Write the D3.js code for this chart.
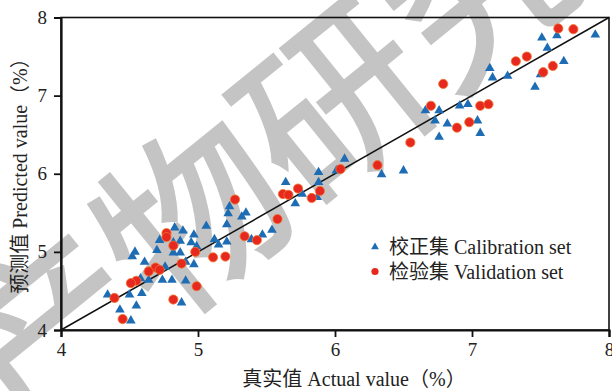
<!DOCTYPE html>
<html>
<head>
<meta charset="utf-8">
<script src="https://cdn.jsdelivr.net/npm/d3@7"></script>
<style>
  html, body { margin: 0; padding: 0; background: #fff; }
  svg { display: block; }
  text { font-family: "Liberation Serif", "Times New Roman", "Noto Sans CJK SC", serif; fill: #222; }
</style>
</head>
<body>
<svg id="chart" width="612" height="391"></svg>
<script>
// calibration set (校正集)
const calActual = [7.90, 7.62, 7.51, 7.55, 7.67, 7.13, 7.15, 7.26, 7.50, 7.46,
  6.91, 6.97, 6.82, 7.04, 7.06, 6.66, 6.76, 6.73, 6.76, 6.07,
  6.50, 6.34, 6.01, 5.88, 5.88, 5.64, 5.76, 5.87, 5.71, 5.23,
  5.22, 5.35, 5.32, 5.06, 5.21, 5.39, 5.47, 5.54, 4.83, 4.89,
  4.97, 4.72, 4.82, 4.87, 4.95, 4.99, 5.12, 5.15, 5.21, 4.70,
  4.82, 4.87, 4.54, 4.52, 4.61, 4.76, 4.91, 4.97, 4.58, 4.64,
  4.74, 4.81, 4.91, 4.34, 4.50, 4.59, 4.43, 4.55, 4.51, 4.88]
const calPredicted = [7.78, 7.77, 7.74, 7.61, 7.44, 7.35, 7.23, 7.25, 7.27, 7.11,
  6.87, 6.89, 6.64, 6.68, 6.52, 6.81, 6.81, 6.68, 6.47, 6.19,
  6.04, 5.99, 6.04, 6.02, 5.89, 5.89, 5.74, 5.70, 5.62, 5.58,
  5.49, 5.50, 5.45, 5.33, 5.35, 5.16, 5.22, 5.28, 5.31, 5.27,
  5.22, 5.15, 5.12, 5.14, 5.12, 5.07, 5.16, 5.09, 5.13, 5.02,
  4.99, 4.99, 5.00, 4.94, 4.87, 4.81, 4.87, 4.84, 4.66, 4.64,
  4.64, 4.64, 4.63, 4.45, 4.45, 4.47, 4.26, 4.31, 4.12, 4.35]
// validation set (检验集)
const valActual = [7.63, 7.74, 7.32, 7.40, 7.52, 7.59, 6.79, 7.06, 7.12, 6.98,
  6.70, 6.89, 6.55, 6.31, 6.04, 5.89, 5.83, 5.73, 5.62, 5.66,
  5.58, 5.27, 5.34, 5.43, 4.77, 4.77, 4.82, 4.98, 5.11, 5.20,
  4.88, 4.69, 4.72, 4.64, 4.55, 4.51, 4.39, 4.99, 4.82, 4.45]
const valPredicted = [7.86, 7.85, 7.44, 7.50, 7.30, 7.38, 7.15, 6.87, 6.89, 6.66,
  6.87, 6.59, 6.40, 6.11, 6.06, 5.78, 5.69, 5.81, 5.74, 5.73,
  5.42, 5.67, 5.20, 5.15, 5.24, 5.19, 5.08, 5.00, 4.93, 4.94,
  4.85, 4.80, 4.77, 4.75, 4.63, 4.60, 4.41, 4.56, 4.39, 4.14]
const xTicks = [4, 5, 6, 7, 8]
const yTicks = [4, 5, 6, 7, 8]
const legendLabels = ["校正集 Calibration set", "检验集 Validation set"]
const watermark = "产物研究"

const blue = "#1d6cb4", red = "#e6281f"
const svg = d3.select("#chart")
const margin = { top: 17.5, right: 3, bottom: 61, left: 61 }
const W = 612, H = 391
const x = d3.scaleLinear().domain([4, 8]).range([margin.left, W - margin.right])
const y = d3.scaleLinear().domain([4, 8]).range([H - margin.bottom, margin.top])

//----------------------------------------------------------- watermark (under the data)
svg.append("text").text(watermark)
  .attr("transform", "translate(256,150) rotate(-39)")
  .attr("text-anchor", "middle").attr("dominant-baseline", "central")
  .style("font-family", "Noto Sans CJK SC").style("font-weight", 400)
  .style("font-size", "182px")
  .style("fill", "#c4c4c4").style("stroke", "#c4c4c4").style("stroke-width", 3)

//----------------------------------------------------------- frame + axes
svg.append("rect").attr("x", x(4)).attr("y", y(8)).attr("width", x(8) - x(4)).attr("height", y(4) - y(8))
  .attr("fill", "none").attr("stroke", "#111").attr("stroke-width", 1.6)

const xAxis = svg.append("g").attr("transform", `translate(0,${y(4)})`)
  .call(d3.axisBottom(x).tickValues(xTicks).tickSize(7).tickPadding(6).tickFormat(d3.format("d")))
const yAxis = svg.append("g").attr("transform", `translate(${x(4)},0)`)
  .call(d3.axisLeft(y).tickValues(yTicks).tickSize(7).tickPadding(7).tickFormat(d3.format("d")))
;[xAxis, yAxis].forEach(g => {
  g.select(".domain").attr("stroke", "#111").attr("stroke-width", 2.2)
  g.selectAll(".tick line").attr("stroke", "#111").attr("stroke-width", 1.8)
  g.selectAll(".tick text").style("font-size", "19px").style("font-family", "Liberation Serif").attr("fill", "#222")
})

//----------------------------------------------------------- 1:1 line
svg.append("line").attr("x1", x(4)).attr("y1", y(4)).attr("x2", x(8)).attr("y2", y(8))
  .attr("stroke", "#111").attr("stroke-width", 1.5)

//----------------------------------------------------------- points
svg.append("g").selectAll("path").data(calActual.map((d, i) => [d, calPredicted[i]])).join("path")
  .attr("d", d3.symbol(d3.symbolTriangle).size(40))
  .attr("transform", d => `translate(${x(d[0])},${y(d[1])})`)
  .attr("fill", blue)
svg.append("g").selectAll("circle").data(valActual.map((d, i) => [d, valPredicted[i]])).join("circle")
  .attr("cx", d => x(d[0])).attr("cy", d => y(d[1])).attr("r", 4.6)
  .attr("fill", red).attr("stroke", "#f3752e").attr("stroke-width", 0.8)

//----------------------------------------------------------- legend
const legend = svg.append("g").attr("transform", "translate(375,247)")
legend.append("path").attr("d", d3.symbol(d3.symbolTriangle).size(26)).attr("fill", blue)
legend.append("circle").attr("cy", 24.5).attr("r", 3.6).attr("fill", red)
legend.selectAll("text").data(legendLabels).join("text")
  .attr("x", 14).attr("y", (d, i) => 7 + i * 25)
  .style("font-size", "20px").text(d => d)

//----------------------------------------------------------- axis titles
svg.append("text").attr("x", 354).attr("y", 386).attr("text-anchor", "middle")
  .style("font-size", "20px").text("真实值 Actual value（%）")
svg.append("text").attr("transform", "translate(27,171) rotate(-90)").attr("text-anchor", "middle")
  .style("font-size", "20px").text("预测值 Predicted value（%）")
</script>
</body>
</html>
